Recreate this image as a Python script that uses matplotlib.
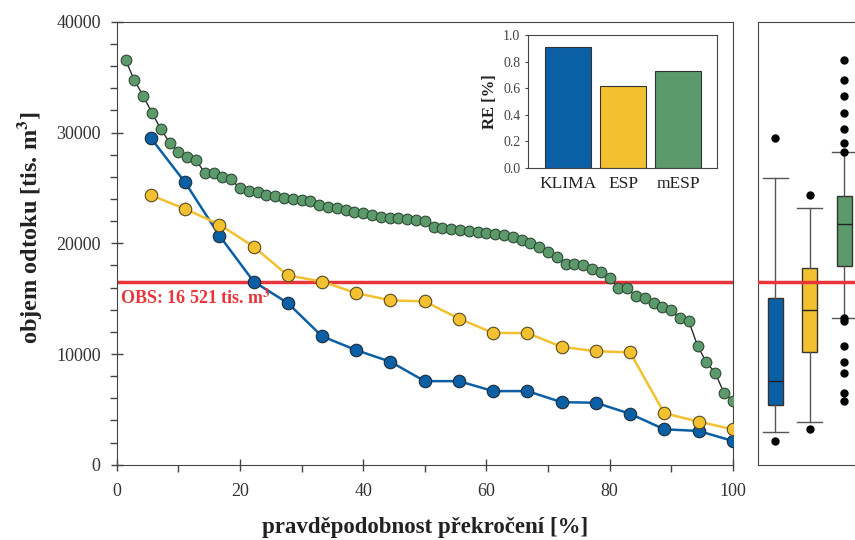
import numpy as np
import matplotlib.pyplot as plt
from matplotlib.ticker import MultipleLocator, FormatStrFormatter

plt.rcParams['font.family'] = ['Liberation Serif', 'DejaVu Serif']
plt.rcParams['mathtext.fontset'] = 'stix'

# objem odtoku [tis. m3], sorted descending (exceedance curves)
klima = [29500, 25500, 20700, 16550, 14600, 11600, 10350, 9300, 7550,
         7550, 6650, 6650, 5650, 5600, 4600, 3200, 3050, 2150]
esp = [24350, 23100, 21700, 19700, 17100, 16550, 15500, 14850, 14750,
       13200, 11900, 11900, 10650, 10250, 10150, 4650, 3900, 3200]
mesp = [36550, 34750, 33330, 31800, 30350, 29100, 28270, 27820, 27520, 26380,
        26380, 26020, 25780, 24970, 24750, 24660, 24360, 24300, 24060, 24000,
        23910, 23850, 23460, 23300, 23160, 23010, 22860, 22710, 22560, 22400,
        22310, 22260, 22170, 22100, 22010, 21500, 21350, 21290, 21200, 21110,
        21050, 20960, 20840, 20750, 20600, 20300, 20050, 19690, 19180, 18730,
        18130, 18130, 18040, 17710, 17380, 16890, 15930, 15930, 15240, 15030,
        14630, 14220, 13970, 13220, 12980, 10750, 9250, 8310, 6500, 5750]
obs = 16521

models = ['KLIMA', 'ESP', 'mESP']
re_vals = [0.91, 0.62, 0.73]

c_blue = '#0b5fa5'
c_yel = '#f3c130'
c_grn = '#5c9a6c'
c_red = '#e8343a'
colors = [c_blue, c_yel, c_grn]


def exceed(v):
    # plotting position: rank / n * 100
    n = len(v)
    return np.arange(1, n + 1) / n * 100


fig = plt.figure(figsize=(8.55, 5.4), dpi=100)

# main panel
ax = fig.add_axes([0.1365, 0.1394, 0.7205, 0.82])
ax.axhline(obs, color=c_red, lw=2.5, zorder=2)
ax.plot(exceed(klima), klima, '-o', color=c_blue, mfc=c_blue, mec='#1c2c3c',
        mew=0.8, ms=9, lw=1.8, zorder=3)
ax.plot(exceed(esp), esp, '-o', color=c_yel, mfc=c_yel, mec='#5a4a20',
        mew=0.8, ms=9, lw=1.8, zorder=3)
ax.plot(exceed(mesp), mesp, '-o', color='#2d2d2d', mfc=c_grn, mec='#2e4a35',
        mew=0.8, ms=7.7, lw=1, zorder=4)
ax.text(0.6, 15900, 'OBS: 16 521 tis. m$^\\mathbf{3}$', color=c_red,
        fontsize=13, fontweight='bold', va='top', ha='left')

ax.set_xlim(0, 100)
ax.set_ylim(0, 40000)
ax.xaxis.set_major_locator(MultipleLocator(20))
ax.xaxis.set_minor_locator(MultipleLocator(10))
ax.yaxis.set_major_locator(MultipleLocator(10000))
ax.yaxis.set_minor_locator(MultipleLocator(2000))
ax.tick_params(which='major', direction='inout', length=9, width=1,
               color='#444', labelsize=13, labelcolor='#333')
ax.tick_params(axis='x', which='major', pad=9)
ax.tick_params(axis='y', which='major', pad=7)
ax.tick_params(which='minor', direction='out', length=5, width=1, color='#444')
for s in ax.spines.values():
    s.set_color('#444')

ax.set_xlabel('pravděpodobnost překročení [%]', fontsize=16.5,
              fontweight='bold', color='#222')
ax.xaxis.set_label_coords(0.5, -0.118)
ax.set_ylabel('objem odtoku [tis. m$^\\mathbf{3}$]', fontsize=17.5,
              fontweight='bold', color='#222')
ax.yaxis.set_label_coords(-0.118, 0.535)

# inset with RE
ax2 = fig.add_axes([0.6175, 0.689, 0.221, 0.246])
ax2.bar(range(3), re_vals, width=0.84, color=colors, edgecolor='#333', lw=0.8)
ax2.set_xlim(-0.73, 2.7)
ax2.set_ylim(0, 1)
ax2.yaxis.set_major_locator(MultipleLocator(0.2))
ax2.yaxis.set_major_formatter(FormatStrFormatter('%.1f'))
ax2.set_xticks(range(3), models)
ax2.tick_params(axis='x', length=0, labelsize=12.5, labelcolor='#222', pad=6)
ax2.tick_params(axis='y', length=2, labelsize=10, labelcolor='#444', color='#444')
ax2.set_ylabel('RE [%]', fontsize=12, fontweight='bold', color='#222')
for s in ax2.spines.values():
    s.set_color('#444')

# boxplots (10th/90th percentile whiskers)
ax3 = fig.add_axes([758 / 855, 0.1394, 138 / 855, 0.82])
stats = []
for v, name in zip([klima, esp, mesp], models):
    v = np.asarray(v)
    p10, q1, med, q3, p90 = np.percentile(v, [10, 25, 50, 75, 90], method='weibull')
    stats.append(dict(med=med, q1=q1, q3=q3, whislo=p10, whishi=p90,
                      fliers=v[(v < p10) | (v > p90)], label=name))
bp = ax3.bxp(stats, positions=[1, 2, 3], widths=0.44, capwidths=0.72,
             patch_artist=True,
             boxprops=dict(edgecolor='#333', lw=1),
             whiskerprops=dict(color='#555', lw=1),
             capprops=dict(color='#555', lw=1),
             medianprops=dict(color='#222', lw=1),
             flierprops=dict(marker='o', mfc='black', mec='black', ms=5))
for patch, c in zip(bp['boxes'], colors):
    patch.set_facecolor(c)
ax3.axhline(obs, color=c_red, lw=2.5, zorder=3)
ax3.set_xlim(0.5, 4.5)
ax3.set_ylim(0, 40000)
ax3.set_xticks([])
ax3.set_yticks([])
for s in ax3.spines.values():
    s.set_color('#444')

fig.savefig('out.png', dpi=100)
